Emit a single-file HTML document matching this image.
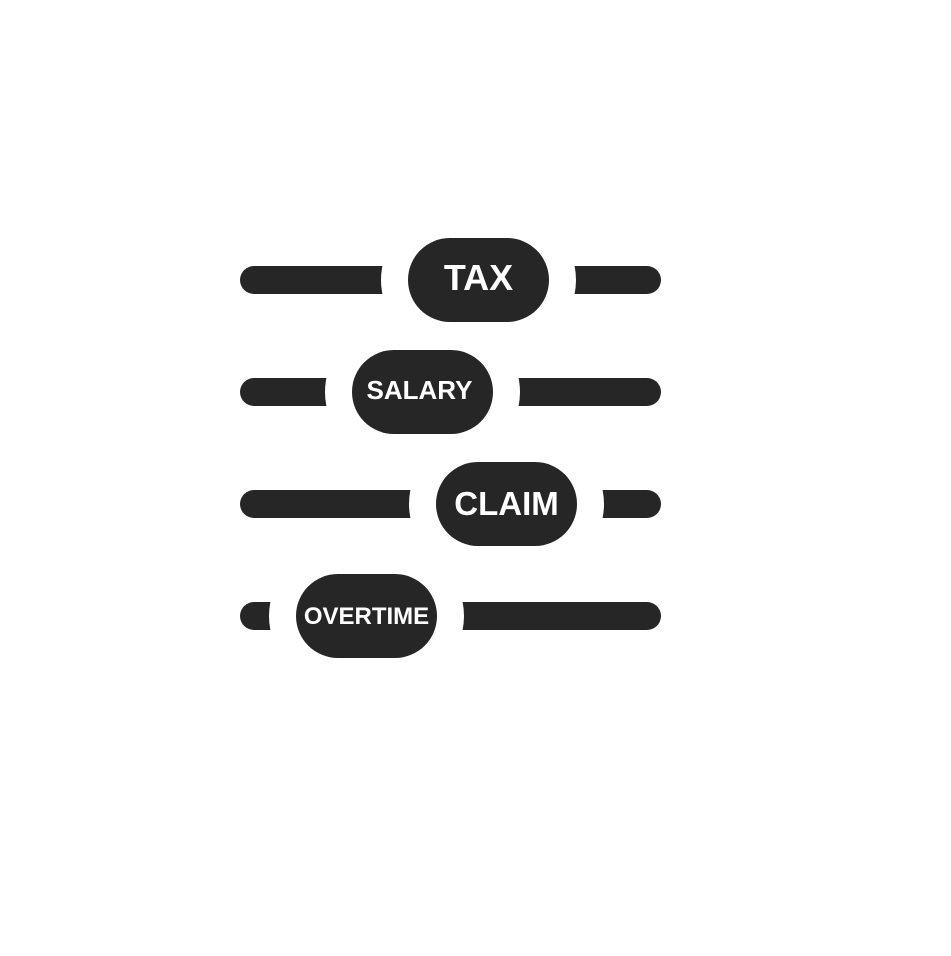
<!DOCTYPE html>
<html><head><style>body{margin:0;background:#fff}</style></head><body>
<svg width="951" height="951" xmlns="http://www.w3.org/2000/svg" font-family="Liberation Sans, sans-serif" font-weight="bold">
<g fill="#262626">
<rect x="240" y="266" width="421" height="28" rx="14"/>
<rect x="240" y="378" width="421" height="28" rx="14"/>
<rect x="240" y="490" width="421" height="28" rx="14"/>
<rect x="240" y="602" width="421" height="28" rx="14"/>
</g>
<g fill="#fff">
<rect x="381" y="211" width="195" height="138" rx="69"/>
<rect x="325" y="323" width="195" height="138" rx="69"/>
<rect x="409" y="435" width="195" height="138" rx="69"/>
<rect x="269" y="547" width="195" height="138" rx="69"/>
</g>
<g fill="#262626">
<rect x="408" y="238" width="141" height="84" rx="42"/>
<rect x="352" y="350" width="141" height="84" rx="42"/>
<rect x="436" y="462" width="141" height="84" rx="42"/>
<rect x="296" y="574" width="141" height="84" rx="42"/>
</g>
<g fill="#fff" text-anchor="middle">
<text x="478.5" y="290" font-size="36">TAX</text>
<text x="419.5" y="399" font-size="26">SALARY</text>
<text x="506.5" y="515" font-size="33">CLAIM</text>
<text x="366.5" y="624" font-size="24">OVERTIME</text>
</g>
</svg>
</body></html>
